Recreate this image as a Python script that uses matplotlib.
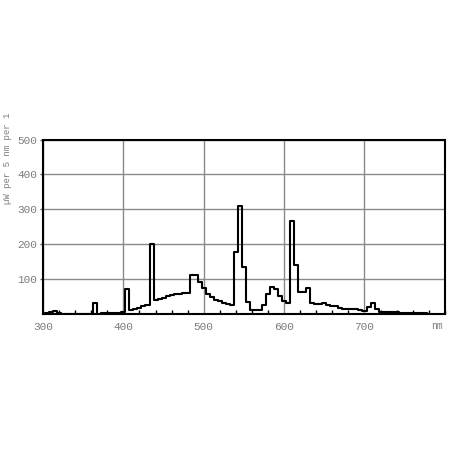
import matplotlib
matplotlib.use("Agg")
import matplotlib.pyplot as plt
from matplotlib.ticker import MultipleLocator

# spectrum, 5 nm bins (centre wavelength)
wavelength = list(range(300, 785, 5))
power = [
    1, 3, 5, 8, 2, 1, 1, 1, 1, 1, 1, 1, 1, 30, 1, 2, 3, 3, 3, 3,      # 300-395
    4, 72, 12, 14, 18, 22, 26, 200, 39, 42, 46, 50, 53, 56, 57, 59,   # 400-475
    60, 111, 111, 90, 73, 58, 48, 41, 37, 32, 28, 24, 178, 310, 135,  # 480-550
    35, 12, 10, 11, 25, 58, 76, 70, 52, 38, 30, 267, 139, 62, 63, 73, # 555-630
    30, 28, 28, 32, 25, 23, 22, 16, 15, 14, 14, 13, 12, 9, 20, 32,    # 635-710
    13, 5, 5, 4, 4, 4, 3, 3, 3, 3, 2, 2, 2, 1,                        # 715-780
]
x_ticks = [300, 400, 500, 600, 700]
y_ticks = [100, 200, 300, 400, 500]

grey = "#7c7c7c"
mono = "Liberation Mono"

fig = plt.figure(figsize=(4.49, 4.49), dpi=100)
ax = fig.add_axes([0.0958, 0.301, 0.895, 0.388])

ax.step(wavelength, power, where="mid", color="black", lw=1.5)

ax.set_xlim(300, 800)
ax.set_ylim(0, 500)
ax.set_xticks(x_ticks)
ax.set_yticks(y_ticks)
ax.xaxis.set_minor_locator(MultipleLocator(20))
ax.grid(True, which="major", color="#8a8a8a", lw=1)
ax.set_axisbelow(True)

ax.tick_params(axis="x", which="major", length=0, labelsize=8,
               labelcolor=grey, pad=6)
ax.tick_params(axis="y", which="major", direction="out", length=2,
               width=1, color="#555555", labelsize=8, labelcolor=grey, pad=2)
ax.tick_params(axis="x", which="minor", direction="in", length=3,
               width=1, color="black")
for lbl in ax.get_xticklabels() + ax.get_yticklabels():
    lbl.set_family(mono)

for s in ax.spines.values():
    s.set_linewidth(1.5)
    s.set_color("black")

# y label sits high, next to the upper part of the axis
fig.text(8 / 449, 1 - 158 / 449, "µW per 5 nm per 1", family=mono,
         fontsize=6.5, color=grey, rotation=90, ha="center", va="center")
fig.text(437 / 449, 1 - 326 / 449, "nm", family=mono, fontsize=7,
         color=grey, ha="center", va="center")

fig.savefig("out.png", dpi=100)
